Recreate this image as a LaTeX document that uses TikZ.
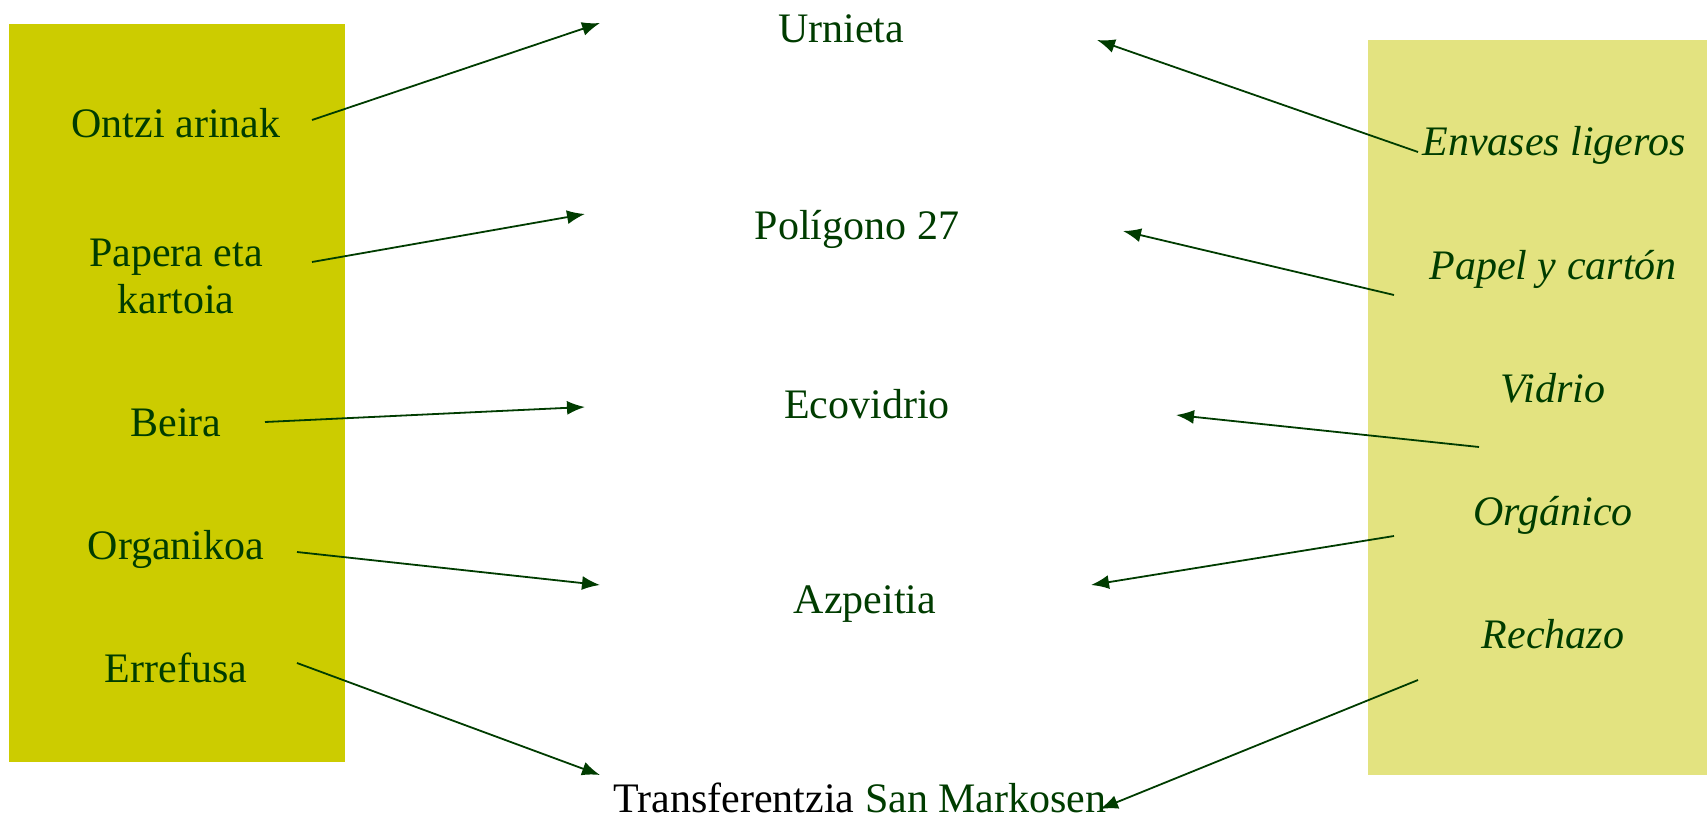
\documentclass[tikz,border=0pt]{standalone}
\usepackage{fontspec}
\setmainfont{Liberation Serif}
\usetikzlibrary{arrows.meta}
\definecolor{olivebox}{HTML}{CCCC00}
\definecolor{palebox}{HTML}{E3E380}
\definecolor{darkleaf}{HTML}{003C00}

\begin{document}
\begin{tikzpicture}[x=0.5pt,y=-0.5pt,
	lbl/.style={text=darkleaf,font=\fontsize{21}{23.5}\selectfont,inner sep=0pt,anchor=base,align=center},
	es/.style={lbl,font=\fontsize{21}{23.5}\selectfont\itshape},
	arr/.style={->,>={Latex[length=9pt,width=7pt]},draw=darkleaf,line width=0.9pt}]
		\useasboundingbox (0,0) rectangle (1707,818);
		\fill[olivebox] (9,24) rectangle (345,762);
		\fill[palebox] (1368,40) rectangle (1707,775);

		\node[lbl] (ontzi) at (176,138) {Ontzi arinak};
		\node[lbl,anchor=center] (papera) at (176,276) {Papera eta\\kartoia};
		\node[lbl] (beira) at (176,436) {Beira};
		\node[lbl] (organikoa) at (176,559) {Organikoa};
		\node[lbl] (errefusa) at (176,682) {Errefusa};

		\node[lbl] (urnieta) at (841,43) {Urnieta};
		\node[lbl] (poligono) at (857,240) {Polígono 27};
		\node[lbl] (ecovidrio) at (867,418) {Ecovidrio};
		\node[lbl] (azpeitia) at (865,613) {Azpeitia};
		\node[lbl] (transf) at (860,812) {\textcolor{black}{Transferentzia} San Markosen};

		\node[es] (envases) at (1554,156) {Envases ligeros};
		\node[es] (papel) at (1553,279) {Papel y cartón};
		\node[es] (vidrio) at (1553,402) {Vidrio};
		\node[es] (organico) at (1553,525) {Orgánico};
		\node[es] (rechazo) at (1553,648) {Rechazo};

		\coordinate (ontzi-o) at (312,120);
		\coordinate (papera-o) at (312,262);
		\coordinate (beira-o) at (265,422);
		\coordinate (organikoa-o) at (297,552);
		\coordinate (errefusa-o) at (297,663);
		\coordinate (envases-o) at (1418,152);
		\coordinate (papel-o) at (1394,295);
		\coordinate (vidrio-o) at (1479,447);
		\coordinate (organico-o) at (1394,536);
		\coordinate (rechazo-o) at (1418,680);

		\coordinate (urnieta-w) at (600,23);
		\coordinate (poligono-w) at (585,214);
		\coordinate (ecovidrio-w) at (585,407);
		\coordinate (azpeitia-w) at (600,585);
		\coordinate (transf-w) at (600,775);
		\coordinate (urnieta-e) at (1097,40);
		\coordinate (poligono-e) at (1123,231);
		\coordinate (ecovidrio-e) at (1176,415);
		\coordinate (azpeitia-e) at (1091,585);
		\coordinate (transf-e) at (1100,809);

		\foreach \a/\b in {ontzi-o/urnieta-w,papera-o/poligono-w,beira-o/ecovidrio-w,organikoa-o/azpeitia-w,errefusa-o/transf-w,
			envases-o/urnieta-e,papel-o/poligono-e,vidrio-o/ecovidrio-e,organico-o/azpeitia-e,rechazo-o/transf-e}
			\draw[arr] (\a) -- (\b);
\end{tikzpicture}
\end{document}
